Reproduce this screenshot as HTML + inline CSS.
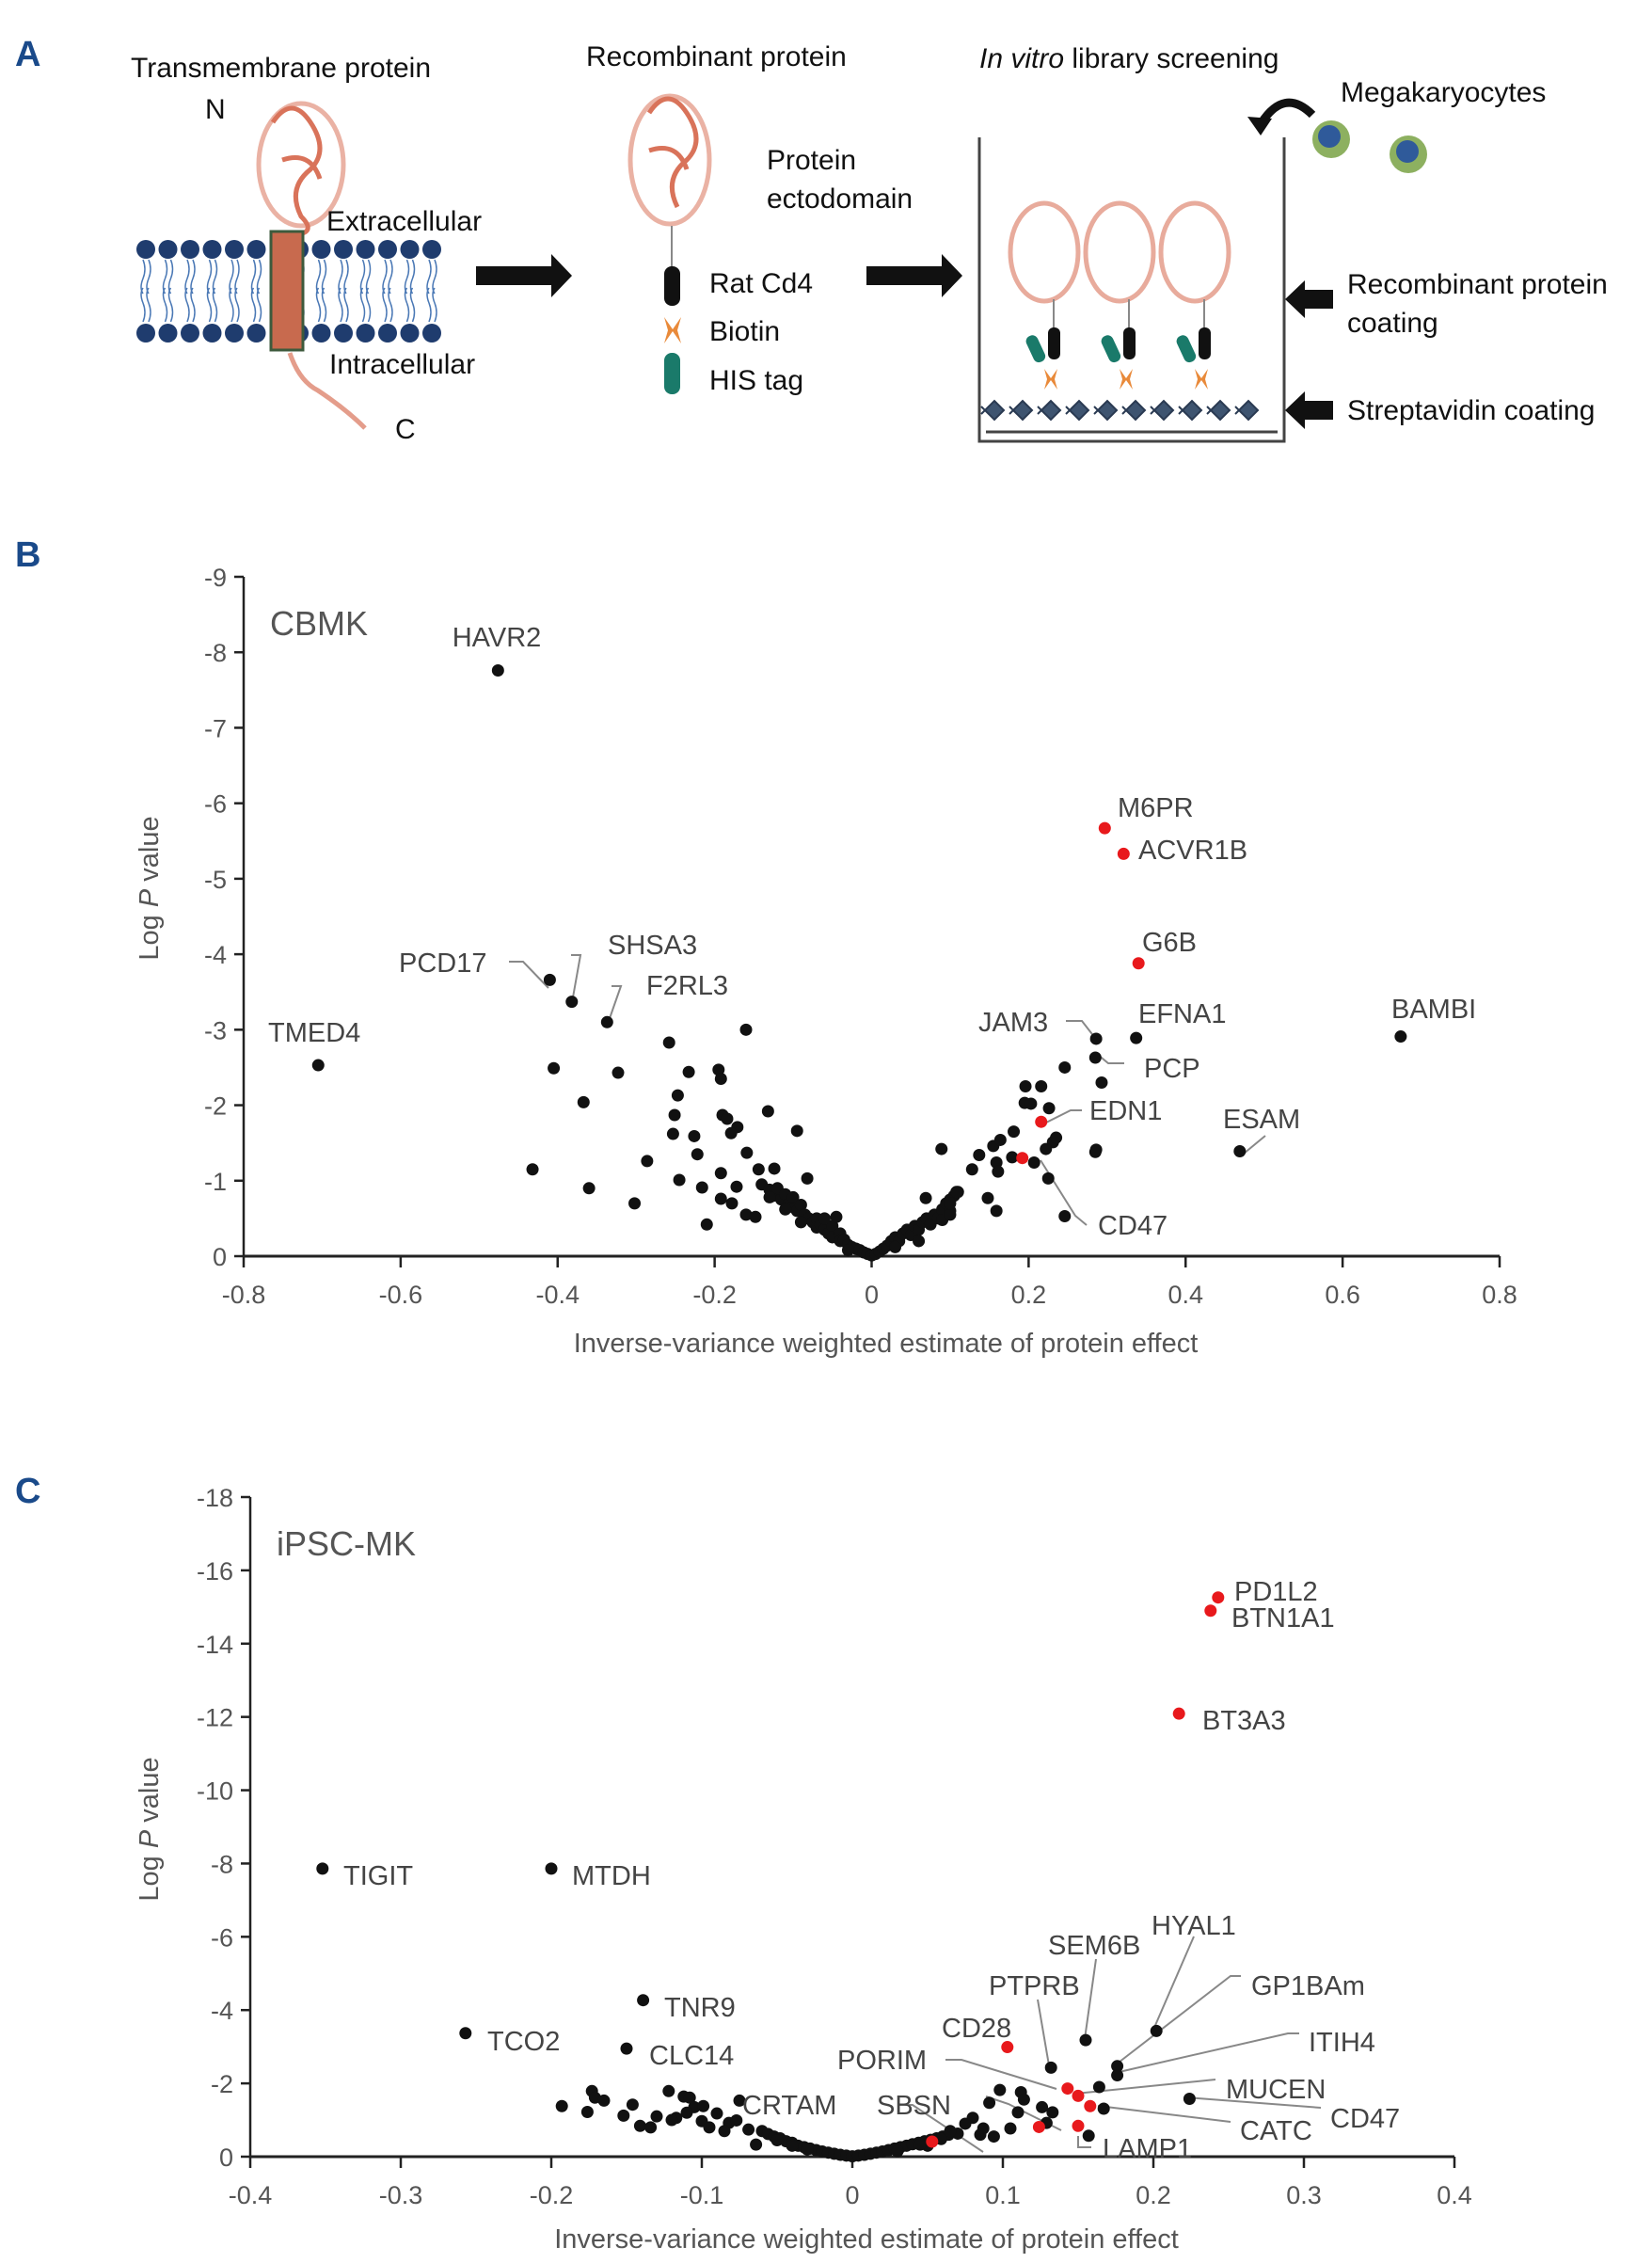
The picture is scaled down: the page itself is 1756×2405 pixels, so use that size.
<!DOCTYPE html>
<html><head><meta charset="utf-8"><style>
html,body{margin:0;padding:0;background:#fff}
svg{display:block}
text{font-family:"Liberation Sans",Arial,sans-serif}
.lab{font-size:29px;fill:#444}
.tick{font-size:27px;fill:#555}
.ttl{font-size:29px;fill:#555}
.ll{stroke:#888;stroke-width:2;fill:none}
.pa{font-size:30px;fill:#111}
</style></head><body>
<svg id="fig" width="1756" height="2405" viewBox="0 0 1756 2405" xmlns="http://www.w3.org/2000/svg">
<g>
<text x="16" y="70" font-size="38" font-weight="bold" fill="#1a4a8a">A</text>
<text class="pa" x="139" y="82">Transmembrane protein</text>
<text class="pa" x="218" y="126">N</text>
<g fill="none" stroke="#d9735a" stroke-width="5">
<ellipse cx="320" cy="175" rx="45" ry="65" opacity="0.55"/>
<path d="M290 130 q20 -30 40 0 q20 30 0 50 q-25 20 -10 50 q20 20 -15 20 M300 170 q30 -10 40 20" />
</g>
<g>
<g fill="#1f3c6e" id="heads"></g>
<rect x="288" y="246" width="34" height="126" fill="#c86a4e" stroke="#3d5a3c" stroke-width="3"/>
</g>
<text class="pa" x="347" y="245">Extracellular</text>
<text class="pa" x="350" y="397">Intracellular</text>
<path d="M308 375 q10 30 30 40 q30 20 50 40" stroke="#d9735a" stroke-width="5" fill="none" opacity="0.7"/>
<text class="pa" x="420" y="466">C</text>
<path d="M506 283 h80 v-13 l22 23 l-22 23 v-13 h-80z" fill="#111"/>
<text class="pa" x="623" y="70">Recombinant protein</text>
<g fill="none" stroke="#d9735a" stroke-width="5">
<ellipse cx="712" cy="170" rx="42" ry="68" opacity="0.55"/>
<path d="M690 120 q20 -30 40 0 q20 30 0 50 q-25 20 -10 50 M690 160 q30 -10 40 20"/>
<line x1="714" y1="240" x2="714" y2="290" stroke="#888" stroke-width="2"/>
</g>
<rect x="706" y="283" width="17" height="42" rx="8" fill="#111"/>
<path d="M706 337 l9 13 l9 -13 l-4 14 l4 14 l-9 -13 l-9 13 l4 -14z" fill="#e98a3a"/>
<rect x="706" y="375" width="17" height="44" rx="8" fill="#1a7a6a"/>
<text class="pa" x="815" y="180">Protein</text>
<text class="pa" x="815" y="221">ectodomain</text>
<text class="pa" x="754" y="311">Rat Cd4</text>
<text class="pa" x="754" y="362">Biotin</text>
<text class="pa" x="754" y="414">HIS tag</text>
<path d="M921 283 h80 v-13 l22 23 l-22 23 v-13 h-80z" fill="#111"/>
<text class="pa" x="1041" y="72"><tspan font-style="italic">In vitro</tspan> library screening</text>
<text class="pa" x="1425" y="108">Megakaryocytes</text>
<path d="M1395 122 q-30 -30 -55 10" stroke="#111" stroke-width="9" fill="none"/>
<path d="M1326 124 l14 20 l12 -18z" fill="#111"/>
<g>
<circle cx="1415" cy="148" r="20" fill="#8db060"/><circle cx="1413" cy="145" r="12" fill="#2f5a9a"/>
<circle cx="1497" cy="164" r="20" fill="#8db060"/><circle cx="1496" cy="161" r="12" fill="#2f5a9a"/>
</g>
<path d="M1041 146 V469 H1365 V146" stroke="#444" stroke-width="3" fill="none"/>
<line x1="1048" y1="459" x2="1358" y2="459" stroke="#444" stroke-width="3"/>
<g id="wellprot"></g>
<path d="M1417 308 h-30 v-10 l-21 20 l21 20 v-10 h30z" fill="#111"/>
<path d="M1417 426 h-30 v-10 l-21 20 l21 20 v-10 h30z" fill="#111"/>
<text class="pa" x="1432" y="312">Recombinant protein</text>
<text class="pa" x="1432" y="353">coating</text>
<text class="pa" x="1432" y="446">Streptavidin coating</text>
</g>
<text x="16" y="602" font-size="38" font-weight="bold" fill="#1a4a8a">B</text>
<text x="16" y="1597" font-size="38" font-weight="bold" fill="#1a4a8a">C</text>
<g id="chartB"></g>
<g id="chartC"></g>
</svg>
<script>
// ---- Panel B data ----
const bXTicks = [-0.8,-0.6,-0.4,-0.2,0,0.2,0.4,0.6,0.8];
const bXTickLabels = ["-0.8","-0.6","-0.4","-0.2","0","0.2","0.4","0.6","0.8"];
const bYTicks = [0,1,2,3,4,5,6,7,8,9];
const bYTickLabels = ["0","-1","-2","-3","-4","-5","-6","-7","-8","-9"];
const bBlackX = [-0.476,-0.705,-0.41,-0.382,-0.337,0.286,0.337,0.285,0.674,0.246,0.469,
-0.16,-0.258,-0.405,-0.323,-0.233,-0.195,-0.192,-0.247,-0.367,-0.251,-0.19,-0.184,-0.132,-0.171,-0.253,-0.226,-0.095,-0.179,-0.222,-0.159,-0.286,-0.432,-0.124,-0.192,-0.144,-0.245,-0.082,-0.36,-0.216,-0.172,-0.302,-0.192,-0.178,-0.16,-0.148,-0.21,
-0.14,-0.13,-0.125,-0.12,-0.115,-0.11,-0.105,-0.1,-0.1,-0.095,-0.09,-0.085,-0.08,-0.075,-0.07,-0.07,-0.065,-0.06,-0.055,-0.05,-0.05,-0.045,-0.04,-0.04,-0.035,-0.03,-0.025,-0.02,-0.015,-0.01,-0.005,0,0.005,0.01,0.015,0.02,0.025,0.03,0.035,0.04,0.045,0.05,0.055,0.06,0.065,0.07,0.075,0.08,0.085,0.09,0.095,0.1,0.105,0.11,0.1,0.09,0.1,-0.13,-0.11,0.06,0.03,-0.03,-0.06,-0.09,
0.089,0.128,0.137,0.148,0.155,0.159,0.161,0.159,0.164,0.181,0.179,0.196,0.216,0.195,0.203,0.226,0.231,0.222,0.207,0.225,0.235,0.246,0.293,0.285,0.286,0.108,0.10,0.069];
const bBlackY = [7.76,2.53,3.66,3.37,3.10,2.88,2.89,2.63,2.91,0.53,1.39,
3.0,2.83,2.49,2.43,2.44,2.47,2.35,2.13,2.04,1.87,1.87,1.82,1.92,1.71,1.62,1.59,1.66,1.63,1.35,1.37,1.26,1.15,1.16,1.10,1.15,1.01,1.03,0.90,0.91,0.92,0.70,0.76,0.70,0.55,0.52,0.42,
0.95,0.88,0.8,0.9,0.75,0.82,0.7,0.65,0.78,0.6,0.68,0.55,0.5,0.45,0.5,0.38,0.42,0.35,0.3,0.4,0.25,0.52,0.3,0.2,0.22,0.15,0.12,0.1,0.08,0.05,0.03,0.01,0.03,0.06,0.1,0.14,0.2,0.25,0.2,0.3,0.35,0.28,0.4,0.35,0.45,0.5,0.42,0.55,0.5,0.62,0.7,0.75,0.8,0.85,0.6,0.48,0.55,0.78,0.62,0.2,0.12,0.08,0.5,0.45,
1.42,1.15,1.34,0.77,1.46,1.24,1.12,0.6,1.54,1.65,1.31,2.25,2.25,2.03,2.02,1.96,1.51,1.42,1.24,1.03,1.57,2.5,2.30,1.38,1.41,0.85,0.7,0.77];
const bRedX = [0.297,0.321,0.340,0.216,0.192];
const bRedY = [5.67,5.33,3.88,1.78,1.30];
// ---- Panel C data ----
const cXTicks = [-0.4,-0.3,-0.2,-0.1,0,0.1,0.2,0.3,0.4];
const cXTickLabels = ["-0.4","-0.3","-0.2","-0.1","0","0.1","0.2","0.3","0.4"];
const cYTicks = [0,2,4,6,8,10,12,14,16,18];
const cYTickLabels = ["0","-2","-4","-6","-8","-10","-12","-14","-16","-18"];
const cBlackX = [-0.352,-0.2,-0.139,-0.257,-0.15,0.155,0.202,0.176,0.176,0.132,0.164,0.224,0.167,0.157,-0.075,0.091,
-0.193,-0.176,-0.173,-0.171,-0.165,-0.152,-0.146,-0.141,-0.134,-0.122,-0.112,-0.108,-0.117,-0.105,-0.1,-0.099,-0.09,-0.082,-0.077,-0.069,-0.064,
-0.06,-0.056,-0.052,-0.048,-0.044,-0.04,-0.036,-0.032,-0.028,-0.024,-0.02,-0.016,-0.012,-0.008,-0.004,0,0.004,0.008,0.012,0.016,0.02,0.024,0.028,0.032,0.036,0.04,0.044,0.048,0.052,0.056,0.06,0.064,-0.05,-0.04,-0.03,0.03,0.05,-0.095,-0.085,-0.12,-0.13,-0.11,
0.098,0.112,0.114,0.11,0.126,0.133,0.129,0.08,0.087,0.105,0.094,0.07,0.059,0.045,0.075,0.065,0.085];
const cBlackY = [7.86,7.86,4.27,3.37,2.95,3.18,3.43,2.47,2.22,2.43,1.9,1.58,1.31,0.57,1.53,1.47,
1.38,1.22,1.79,1.61,1.53,1.12,1.42,0.84,0.8,1.79,1.64,1.61,1.06,1.35,0.97,1.38,1.18,0.92,0.99,0.74,0.33,
0.7,0.62,0.55,0.5,0.42,0.38,0.3,0.26,0.22,0.18,0.14,0.11,0.08,0.05,0.03,0.01,0.03,0.05,0.08,0.11,0.14,0.18,0.22,0.26,0.3,0.34,0.38,0.42,0.46,0.5,0.55,0.6,0.45,0.3,0.2,0.15,0.3,0.8,0.7,1.0,1.1,1.2,
1.82,1.76,1.56,1.21,1.35,1.21,0.92,1.06,0.77,0.77,0.55,0.63,0.48,0.33,0.9,0.7,0.6];
const cRedX = [0.243,0.238,0.217,0.103,0.143,0.150,0.158,0.150,0.124,0.053];
const cRedY = [15.26,14.9,12.09,2.99,1.86,1.66,1.38,0.84,0.81,0.41];

const NS = "http://www.w3.org/2000/svg";
function mk(parent, tag, attrs, txt){const e=document.createElementNS(NS,tag);for(const k in attrs)e.setAttribute(k,attrs[k]);if(txt!==undefined)e.textContent=txt;parent.appendChild(e);return e;}

const heads=document.getElementById('heads');
for(const row of [265,354]){for(let i=0;i<13;i++){let x=155+i*23.5;if(i>=6)x+=22;mk(heads,'circle',{cx:x,cy:row,r:10});}}
for(let i=0;i<13;i++){let x=155+i*23.5;if(i>=6)x+=22;
 mk(heads,'path',{d:`M${x-3} 276 q4 10 0 20 q-4 10 0 16 M${x+3} 276 q4 10 0 20 q-4 10 0 16 M${x-3} 342 q4 -10 0 -20 q-4 -10 0 -16 M${x+3} 342 q4 -10 0 -20 q-4 -10 0 -16`,stroke:'#4a78b5','stroke-width':1.5,fill:'none'});}
const wp=document.getElementById('wellprot');
for(const cx of [1110,1190,1270]){
 mk(wp,'ellipse',{cx:cx,cy:268,rx:36,ry:52,fill:'none',stroke:'#d9735a','stroke-width':5,opacity:0.6});
 mk(wp,'line',{x1:cx+10,y1:318,x2:cx+10,y2:350,stroke:'#888','stroke-width':2});
 mk(wp,'rect',{x:cx+4,y:348,width:13,height:34,rx:6,fill:'#111'});
 mk(wp,'rect',{x:cx-16,y:356,width:13,height:30,rx:6,fill:'#1a7a6a',transform:`rotate(-25 ${cx-10} 370)`});
 mk(wp,'path',{d:`M${cx} 392 l7 10 l7 -10 l-3 11 l3 11 l-7 -10 l-7 10 l3 -11z`,fill:'#e98a3a'});
}
for(let i=0;i<10;i++){mk(wp,'path',{d:`M${1057+i*30} 436 m-10 0 l10 -10 l10 10 l-10 10z m-4 -4 l8 8 m0 -8 l-8 8`,fill:'#3e5470',stroke:'#2a3a52','stroke-width':2});}

function chart(g, o){
 const sx=v=>o.x0+(v-o.xmin)/(o.xmax-o.xmin)*(o.x1-o.x0);
 const sy=v=>o.y0-(v-o.ymin)/(o.ymax-o.ymin)*(o.y0-o.y1);
 mk(g,'line',{x1:o.x0,y1:o.y0,x2:o.x0,y2:o.y1,stroke:'#222','stroke-width':2.5});
 mk(g,'line',{x1:o.x0,y1:o.y0,x2:o.x1,y2:o.y0,stroke:'#222','stroke-width':3});
 o.xt.forEach((v,i)=>{
  mk(g,'line',{x1:sx(v),y1:o.y0,x2:sx(v),y2:o.y0+12,stroke:'#222','stroke-width':2.5});
  const tl=mk(g,'text',{x:sx(v),y:o.y0+50,class:'tick','text-anchor':'middle'},o.xl[i]);
  
  
 });
 o.yt.forEach((v,i)=>{
  mk(g,'line',{x1:o.x0-10,y1:sy(v),x2:o.x0,y2:sy(v),stroke:'#222','stroke-width':2.5});
  const tl=mk(g,'text',{x:o.x0-18,y:sy(v)+10,class:'tick','text-anchor':'end'},o.yl[i]);
  
  
 });
 const xt=mk(g,'text',{x:(o.x0+o.x1)/2+15,y:o.xty,class:'ttl','text-anchor':'middle'},'Inverse-variance weighted estimate of protein effect');
 
 
 const yt=mk(g,'text',{x:0,y:0,class:'ttl','text-anchor':'middle',transform:`translate(168 ${o.yty}) rotate(-90)`});
 
 
 mk(yt,'tspan',{},'Log ');mk(yt,'tspan',{'font-style':'italic'},'P');mk(yt,'tspan',{},' value');
 const nm=mk(g,'text',{x:o.x0+28,y:o.y1+62,'font-size':36,fill:'#555'},o.name);
 
 
 o.lines.forEach(p=>mk(g,'polyline',{points:p,class:'ll'}));
 o.bx.forEach((v,i)=>{
  const c=mk(g,'circle',{cx:sx(v),cy:sy(o.by[i]),r:6.5,fill:'#111'});
  
  
 });
 o.rx.forEach((v,i)=>{
  const c=mk(g,'circle',{cx:sx(v),cy:sy(o.ry[i]),r:6.5,fill:'#e8191c'});
  
  
 });
 o.labels.forEach(l=>{
  const t=mk(g,'text',{x:l[1],y:l[2],class:'lab','text-anchor':l[3]||'start'},l[0]);
  
  
 });
}
chart(document.getElementById('chartB'),{x0:259,x1:1594,y0:1335,y1:613,xmin:-0.8,xmax:0.8,ymin:0,ymax:9,
 xt:bXTicks,xl:bXTickLabels,yt:bYTicks,yl:bYTickLabels,xty:1437,yty:944,name:'CBMK',
 bx:bBlackX,by:bBlackY,rx:bRedX,ry:bRedY,
 lines:["541,1022 556,1022 583,1050","607,1015 617,1015 609,1060","650,1048 660,1048 646,1088","1133,1085 1150,1085 1164,1103","1166,1120 1178,1130 1195,1130","1150,1180 1138,1180 1112,1193","1106,1233 1143,1292 1155,1302","1345,1207 1322,1226"],
 labels:[["HAVR2",528,687,'middle'],["TMED4",285,1107],["PCD17",424,1033],["SHSA3",646,1014],["F2RL3",687,1057],["M6PR",1188,868],["ACVR1B",1210,913],["G6B",1214,1011],["EFNA1",1210,1087],["BAMBI",1479,1082],["JAM3",1040,1096],["PCP",1216,1145],["EDN1",1158,1190],["ESAM",1300,1199],["CD47",1167,1312]]
});
chart(document.getElementById('chartC'),{x0:266,x1:1546,y0:2292,y1:1591,xmin:-0.4,xmax:0.4,ymin:0,ymax:18,
 xt:cXTicks,xl:cXTickLabels,yt:cYTicks,yl:cYTickLabels,xty:2389,yty:1944,name:'iPSC-MK',
 bx:cBlackX,by:cBlackY,rx:cRedX,ry:cRedY,
 lines:["1165,2082 1153,2167","1269,2058 1226,2157","1319,2100 1308,2100 1185,2195","1381,2161 1369,2161 1185,2203","1103,2125 1115,2195","1292,2210 1143,2225","1404,2240 1260,2229","1308,2255 1167,2238","1146,2270 1146,2282 1160,2282","1005,2189 1022,2189 1123,2220","1048,2228 1072,2236 1128,2264","955,2237 970,2237 1045,2287"],
 labels:[["TIGIT",365,2003],["MTDH",608,2003],["TNR9",706,2143],["TCO2",518,2179],["CLC14",690,2194],["PD1L2",1312,1701],["BTN1A1",1309,1729],["BT3A3",1278,1838],["HYAL1",1224,2056],["SEM6B",1114,2077],["GP1BAm",1330,2120],["PTPRB",1051,2120],["CD28",1001,2165],["ITIH4",1391,2180],["PORIM",890,2199],["MUCEN",1303,2230],["CRTAM",789,2247],["SBSN",932,2247],["CD47",1414,2261],["CATC",1318,2274],["LAMP1",1172,2293]]
});
</script>
</body></html>
